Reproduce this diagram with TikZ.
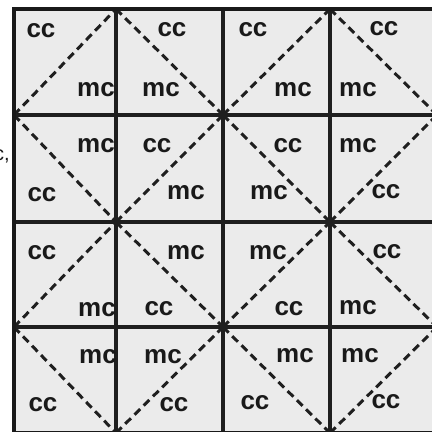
\documentclass[tikz,border=0pt]{standalone}
\usepackage{fontspec}
\setmainfont{Liberation Sans}
\begin{document}
\begin{tikzpicture}[x=1pt,y=-1pt,
  gridline/.style={line width=3.2pt,draw=black!88},
  borderline/.style={line width=4.2pt,draw=black!90},
  diag/.style={line width=3pt,draw=black!88,dash pattern=on 8pt off 5pt},
  lbl/.style={font=\fontsize{26}{28}\selectfont\bfseries,text=black!90,inner sep=0pt,anchor=center}]
\useasboundingbox[fill=white] (0,0) rectangle (432,432);
\fill[black!8] (14,9) rectangle (437,433);
% columns x: 14,116,223,330,437 ; rows y: 9,115,222,327,433
\foreach \i/\x in {0/14,1/116,2/223,3/330,4/437}{
  \foreach \j/\y in {0/9,1/115,2/222,3/327,4/433}{
    \coordinate (p\i\j) at (\x,\y);
  }
}
% diagonals
\draw[diag] (p01) -- (p10);
\draw[diag] (p10) -- (p21);
\draw[diag] (p21) -- (p30);
\draw[diag] (p30) -- (p41);
\draw[diag] (p01) -- (p12);
\draw[diag] (p12) -- (p21);
\draw[diag] (p21) -- (p32);
\draw[diag] (p32) -- (p41);
\draw[diag] (p03) -- (p12);
\draw[diag] (p12) -- (p23);
\draw[diag] (p23) -- (p32);
\draw[diag] (p32) -- (p43);
\draw[diag] (p03) -- (p14);
\draw[diag] (p14) -- (p23);
\draw[diag] (p23) -- (p34);
\draw[diag] (p34) -- (p43);
% inner grid lines
\draw[gridline] (p10) -- (p14);
\draw[gridline] (p20) -- (p24);
\draw[gridline] (p30) -- (p34);
\draw[gridline] (p01) -- (p41);
\draw[gridline] (p02) -- (p42);
\draw[gridline] (p03) -- (p43);
% border
\draw[borderline] (p00) rectangle (p44);
% labels row 0
\node[lbl] (c00) at (41,31) {cc};
\node[lbl] (m00) at (96,90) {mc};
\node[lbl] (c01) at (172,30) {cc};
\node[lbl] (m01) at (161,90) {mc};
\node[lbl] (c02) at (253,30) {cc};
\node[lbl] (m02) at (293,90) {mc};
\node[lbl] (c03) at (384,29) {cc};
\node[lbl] (m03) at (358,90) {mc};
% row 1
\node[lbl] (m10) at (96,146) {mc};
\node[lbl] (c10) at (42,195) {cc};
\node[lbl] (c11) at (157,146) {cc};
\node[lbl] (m11) at (186,193) {mc};
\node[lbl] (c12) at (288,146) {cc};
\node[lbl] (m12) at (269,193) {mc};
\node[lbl] (m13) at (358,146) {mc};
\node[lbl] (c13) at (386,192) {cc};
% row 2
\node[lbl] (c20) at (42,253) {cc};
\node[lbl] (m20) at (97,310) {mc};
\node[lbl] (m21) at (186,253) {mc};
\node[lbl] (c21) at (159,309) {cc};
\node[lbl] (m22) at (268,253) {mc};
\node[lbl] (c22) at (289,309) {cc};
\node[lbl] (c23) at (387,252) {cc};
\node[lbl] (m23) at (358,308) {mc};
% row 3
\node[lbl] (m30) at (98,357) {mc};
\node[lbl] (c30) at (43,405) {cc};
\node[lbl] (m31) at (163,357) {mc};
\node[lbl] (c31) at (174,405) {cc};
\node[lbl] (m32) at (295,356) {mc};
\node[lbl] (c32) at (255,403) {cc};
\node[lbl] (m33) at (360,356) {mc};
\node[lbl] (c33) at (386,402) {cc};
% cropped text fragment at left edge (as in the reference)
\node[font=\fontsize{20}{22}\selectfont,text=black!90,inner sep=0pt,anchor=base east] (frag) at (10,160) {c,};
\end{tikzpicture}
\end{document}
